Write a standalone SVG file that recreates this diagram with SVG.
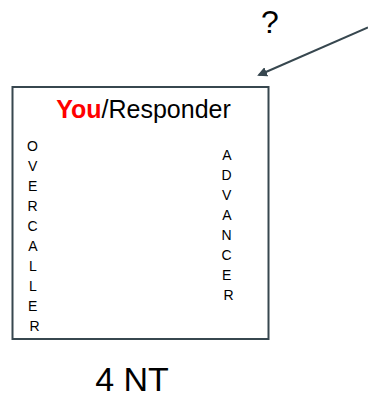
<svg xmlns="http://www.w3.org/2000/svg" width="368" height="397" viewBox="0 0 368 397">
  <style>
    .lbl { font-family: "Liberation Sans", Arial, sans-serif; fill: #000; }
    .vert { font-size: 14px; text-anchor: middle; }
    .edge { stroke: #37474f; stroke-width: 2; fill: none; }
  </style>
  <defs>
    <marker id="arrow" markerWidth="10" markerHeight="10" refX="8" refY="5" orient="auto" markerUnits="userSpaceOnUse" viewBox="0 0 10 10">
      <path d="M0,0 L10,5 L0,10 z" fill="#37474f"/>
    </marker>
  </defs>
  <rect width="368" height="397" fill="#ffffff"/>

  <g id="connectors">
    <path class="edge" d="M368,27.5 L259,75" marker-end="url(#arrow)"/>
  </g>

  <g id="question">
    <text class="lbl" x="270" y="33" font-size="32" text-anchor="middle">?</text>
  </g>

  <g id="responder">
    <rect x="12.5" y="87" width="256" height="252" fill="#ffffff" stroke="#37474f" stroke-width="2"/>
    <text class="lbl" x="143.5" y="117.5" font-size="25" text-anchor="middle"><tspan fill="#ff0000" font-weight="bold">You</tspan>/Responder</text>
    <text class="lbl vert">
      <tspan x="34.5" y="150.5">O</tspan>
      <tspan x="34.5" y="170.5">V</tspan>
      <tspan x="34.5" y="190.5">E</tspan>
      <tspan x="34.5" y="210.5">R</tspan>
      <tspan x="34.5" y="230.5">C</tspan>
      <tspan x="34.5" y="250.5">A</tspan>
      <tspan x="34.5" y="270.5">L</tspan>
      <tspan x="34.5" y="290.5">L</tspan>
      <tspan x="34.5" y="310.5">E</tspan>
      <tspan x="34.5" y="330.5">R</tspan>
    </text>
    <text class="lbl vert">
      <tspan x="228.5" y="159.5">A</tspan>
      <tspan x="228.5" y="179.5">D</tspan>
      <tspan x="228.5" y="199.5">V</tspan>
      <tspan x="228.5" y="219.5">A</tspan>
      <tspan x="228.5" y="239.5">N</tspan>
      <tspan x="228.5" y="259.5">C</tspan>
      <tspan x="228.5" y="279.5">E</tspan>
      <tspan x="228.5" y="299.5">R</tspan>
    </text>
  </g>

  <g id="bid">
    <text class="lbl" x="132" y="391" font-size="34" text-anchor="middle">4 NT</text>
  </g>
</svg>
